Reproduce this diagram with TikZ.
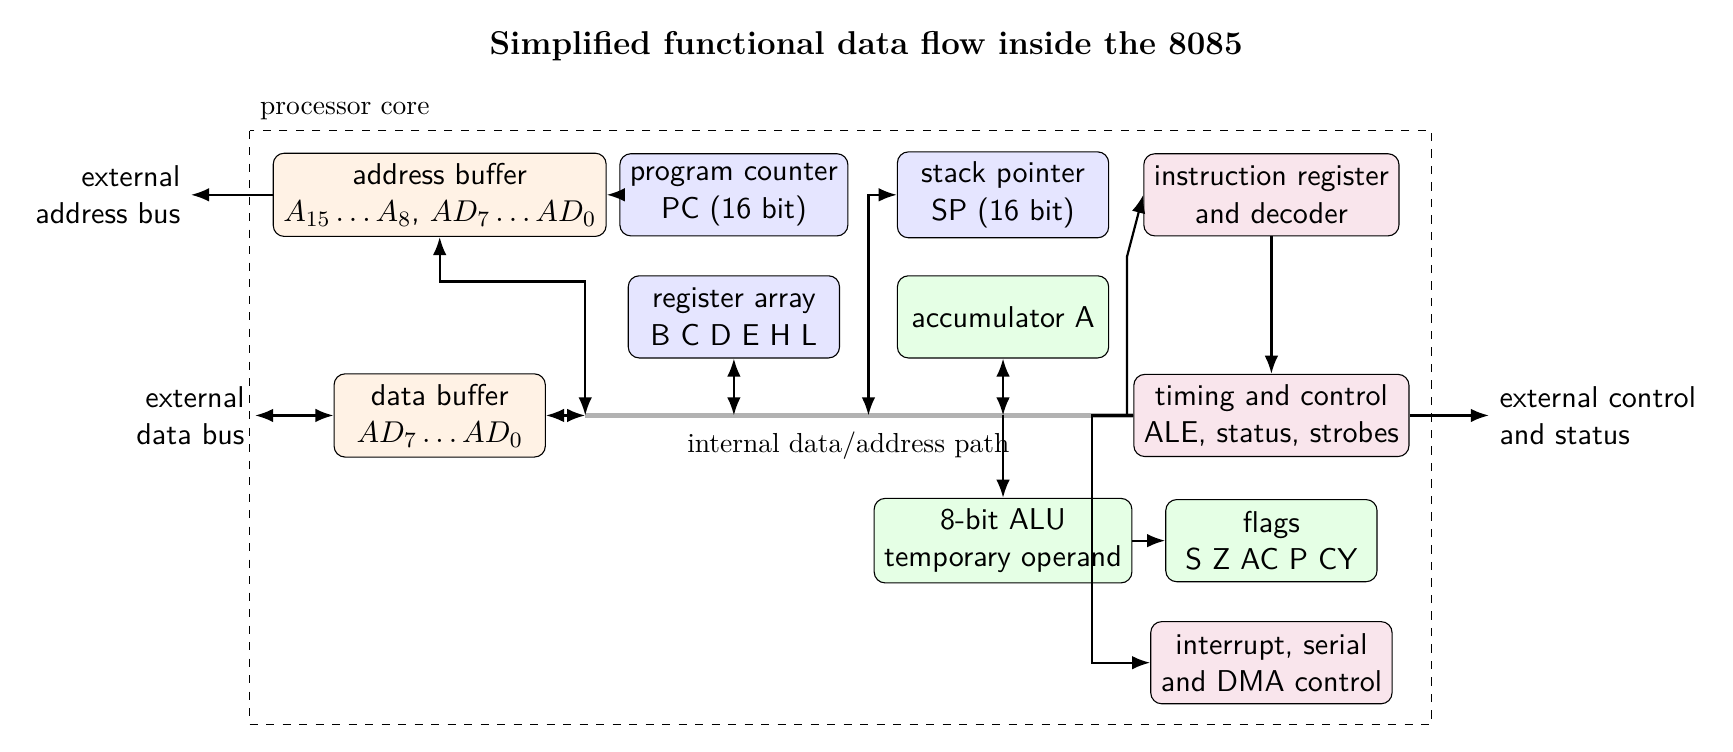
\documentclass[tikz,border=0pt,11pt]{standalone}
\usepackage{amsmath,amssymb}
\usepackage{tikz}
\usepackage{xcolor}
\usetikzlibrary{arrows.meta, positioning}

\begin{document}
\begin{tikzpicture}[>=Latex, font=\sffamily,
  blk/.style={draw, rounded corners=4pt, align=center, minimum width=2.7cm, minimum height=1.05cm},
  bufbox/.style={blk, fill=orange!10},
  regbox/.style={blk, fill=blue!10},
  alubox/.style={blk, fill=green!10},
  ctlbox/.style={blk, fill=purple!10},
  link/.style={thick},
  bus/.style={draw=gray!60, line width=1.6pt}]
  \useasboundingbox (0,0) rectangle (22.15,-9.61);
  % Title
  \node[font=\large\bfseries\rmfamily] (title) at (11.07,-0.59) {Simplified functional data flow inside the 8085};
  % Processor core frame
  \draw[dashed] (3.19,-1.67) rectangle (18.30,-9.26);
  \node[anchor=south west, font=\small\rmfamily] (corelbl) at (3.19,-1.67) {processor core};
  % Blocks
  \node[bufbox] (abuf) at (5.62,-2.49) {address buffer\\$A_{15}\dots A_8$, $AD_7\dots AD_0$};
  \node[regbox] (pc) at (9.38,-2.49) {program counter\\PC (16 bit)};
  \node[regbox] (sp) at (12.82,-2.49) {stack pointer\\SP (16 bit)};
  \node[ctlbox] (ir) at (16.25,-2.49) {instruction register\\and decoder};
  \node[regbox] (regs) at (9.38,-4.05) {register array\\B C D E H L};
  \node[alubox] (acc) at (12.82,-4.05) {accumulator A};
  \node[bufbox] (dbuf) at (5.62,-5.31) {data buffer\\$AD_7\dots AD_0$};
  \node[ctlbox] (tc) at (16.25,-5.31) {timing and control\\ALE, status, strobes};
  \node[alubox] (alu) at (12.82,-6.91) {8-bit ALU\\temporary operand};
  \node[alubox] (flags) at (16.25,-6.91) {flags\\S Z AC P CY};
  \node[ctlbox] (irq) at (16.25,-8.47) {interrupt, serial\\and DMA control};
  % External pins
  \node[align=right, anchor=east] (xaddr) at (2.44,-2.49) {external\\address bus};
  \node[align=right, anchor=east] (xdata) at (3.26,-5.31) {external\\data bus};
  \node[align=left, anchor=west] (xctrl) at (19.03,-5.31) {external control\\and status};
  % Internal bus
  \coordinate (busL) at (7.48,-5.31);
  \coordinate (spTap) at (11.10,-5.31);
  \draw[bus] (busL) -- (tc.west)
    node[pos=0.48, below, yshift=-1.5pt, font=\small\rmfamily] (buslbl) {internal data/address path};
  % Connections
  \draw[link,->] (abuf.west) -- (xaddr.east);
  \draw[link,->] (pc.west) -- (abuf.east);
  \draw[link,<->] (abuf.south) -- ++(0,-0.57) -| (busL);
  \draw[link,<->] (xdata.east) -- (dbuf.west);
  \draw[link,<->] (dbuf.east) -- (busL);
  \draw[link,<->] (regs.south) -- (regs.south |- busL);
  \draw[link,<->] (spTap) |- (sp.west);
  \draw[link,<->] (acc.south) -- (acc.south |- busL);
  \draw[link,->] (acc.south |- busL) -- (alu.north);
  \draw[link,->] (ir.south) -- (tc.north);
  \draw[link,->] (tc.east) -- (xctrl.west);
  \draw[link,->] (alu.east) -- (flags.west);
  \draw[link,->] (tc.west) -- ++(-0.08,0) -- ++(0,2.03) -- (ir.west);
  \draw[link,->] (tc.west) -- ++(-0.53,0) |- (irq.west);
\end{tikzpicture}
\end{document}
